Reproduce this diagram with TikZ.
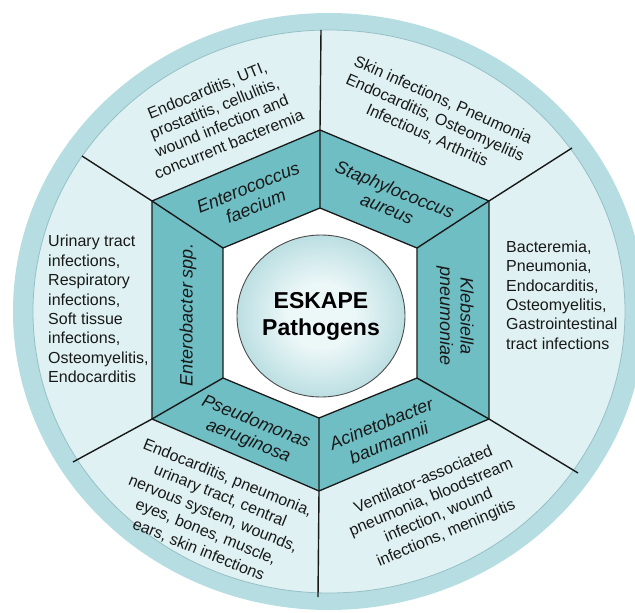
\documentclass[tikz,border=0pt]{standalone}
\usepackage{fontspec}
\setmainfont{Liberation Sans}
\usetikzlibrary{shapes.geometric}
\definecolor{ringc}{RGB}{181,221,226}
\definecolor{ringedge}{RGB}{150,192,198}
\definecolor{fieldc}{RGB}{223,241,242}
\definecolor{panelc}{RGB}{111,190,196}
\definecolor{hubin}{RGB}{236,247,248}
\definecolor{hubout}{RGB}{108,183,190}
\definecolor{inkc}{RGB}{25,25,25}
% soft sphere-like fill for the hub, reaching the edge colour at the rim
\pgfdeclareradialshading{hubshade}{\pgfpoint{0bp}{0bp}}{%
  color(0bp)=(hubin); color(10bp)=(hubin); color(50bp)=(hubout)}
\begin{document}
\begin{tikzpicture}[x=1pt,y=-1pt,
  divider/.style={line width=1.4pt, draw=inkc},
  hexline/.style={line width=1.3pt, draw=inkc, line join=miter},
  bug/.style={font=\fontsize{18}{20.5}\selectfont\itshape, align=center, inner sep=0pt, text=inkc},
  ill/.style={font=\fontsize{16}{19.4}\selectfont, align=center, inner sep=0pt, text=inkc},
  illL/.style={ill, align=left},
  hubstyle/.style={ellipse, draw=black!70, line width=0.9pt, shading=hubshade, shade,
    minimum width=168pt, minimum height=162pt, inner sep=0pt, align=center,
    font=\fontsize{23}{27}\selectfont\bfseries, text=black}]
\useasboundingbox (0,0) rectangle (635,613);

% outer ring and light field
\fill[ringc] (329,311.5) ellipse [x radius=316pt, y radius=298.5pt];
\fill[fieldc] (329,311.5) ellipse [x radius=296pt, y radius=281.5pt];
\draw[ringedge, line width=0.8pt] (329,311.5) ellipse [x radius=296pt, y radius=281.5pt];

% hexagon corners
\coordinate (oT)  at (320,130);
\coordinate (oTR) at (489,201);
\coordinate (oBR) at (489,419);
\coordinate (oB)  at (319,491);
\coordinate (oBL) at (152,419);
\coordinate (oTL) at (152,201);
\coordinate (iT)  at (320,208);
\coordinate (iTR) at (417,248);
\coordinate (iBR) at (417,378);
\coordinate (iB)  at (319,418);
\coordinate (iBL) at (223,378);
\coordinate (iTL) at (223,248);
% spoke ends on the rim
\coordinate (rT)  at (321,30);
\coordinate (rTR) at (572,148);
\coordinate (rBR) at (578,473);
\coordinate (rB)  at (318,597);
\coordinate (rBL) at (73,462);
\coordinate (rTL) at (82,156);

% pathogen band and white core
\fill[panelc] (oT) -- (oTR) -- (oBR) -- (oB) -- (oBL) -- (oTL) -- cycle;
\fill[white] (iT) -- (iTR) -- (iBR) -- (iB) -- (iBL) -- (iTL) -- cycle;

% spokes
\draw[divider] (iT) -- (oT) -- (rT);
\draw[divider] (iTR) -- (oTR) -- (rTR);
\draw[divider] (iBR) -- (oBR) -- (rBR);
\draw[divider] (iB) -- (oB) -- (rB);
\draw[divider] (iBL) -- (oBL) -- (rBL);
\draw[divider] (iTL) -- (oTL) -- (rTL);

% hexagon outlines
\draw[hexline] (oT) -- (oTR) -- (oBR) -- (oB) -- (oBL) -- (oTL) -- cycle;
\draw[hexline] (iT) -- (iTR) -- (iBR) -- (iB) -- (iBL) -- (iTL) -- cycle;

% hub
\node[hubstyle] (hub) at (321,316) {ESKAPE\\Pathogens};

% pathogen names
\node[bug, rotate=22]  (ent) at (252,197) {Enterococcus\\faecium};
\node[bug, rotate=-22] (sta) at (391,199) {Staphylococcus\\aureus};
\node[bug, rotate=-90] (kle) at (455,316) {Klebsiella\\pneumoniae};
\node[bug, rotate=22]  (aci) at (385,433) {Acinetobacter\\baumannii};
\node[bug, rotate=-22] (pse) at (252,432) {Pseudomonas\\aeruginosa};
\node[bug, rotate=90]  (eba) at (188,315) {Enterobacter spp.};

% associated infections
\node[ill, rotate=22] (entinf) at (218,117)
  {Endocarditis, UTI,\\prostatitis, cellulitis,\\wound infection and\\concurrent bacteremia};
\node[ill, rotate=-24] (stainf) at (435,118)
  {Skin infections, Pneumonia\\Endocarditis, Osteomyelitis\\Infectious, Arthritis};
\node[illL, anchor=west] (kleinf) at (506,295)
  {Bacteremia,\\Pneumonia,\\Endocarditis,\\Osteomyelitis,\\Gastrointestinal\\tract infections};
\node[ill, rotate=23] (aciinf) at (435,507)
  {Ventilator-associated\\pneumonia, bloodstream\\infection, wound\\infections, meningitis};
\node[ill, rotate=-22] (pseinf) at (213,514)
  {Endocarditis, pneumonia,\\urinary tract, central\\nervous system, wounds,\\eyes, bones, muscle,\\ears, skin infections};
\node[illL, anchor=west] (ebainf) at (48,309)
  {Urinary tract\\infections,\\Respiratory\\infections,\\Soft tissue\\infections,\\Osteomyelitis,\\Endocarditis};
\end{tikzpicture}
\end{document}
